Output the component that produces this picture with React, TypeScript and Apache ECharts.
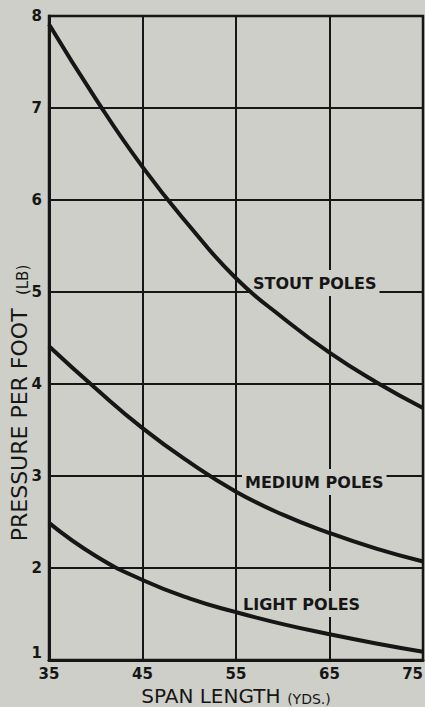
import React, { useEffect, useRef } from "react";
import * as echarts from "echarts";

const spanLengths = [35, 40, 45, 50, 55, 60, 65, 70, 75];
const stoutPoles = [7.91, 7.1, 6.36, 5.72, 5.15, 4.72, 4.34, 4.02, 3.74];
const mediumPoles = [4.41, 3.95, 3.52, 3.15, 2.83, 2.58, 2.38, 2.21, 2.07];
const lightPoles = [2.49, 2.13, 1.87, 1.67, 1.52, 1.39, 1.28, 1.18, 1.09];
const seriesNames = ["STOUT POLES", "MEDIUM POLES", "LIGHT POLES"];

const BG = "#cecfc9";
const INK = "#161616";
const FONT = "DejaVu Sans";

export default function App() {
  const ref = useRef<HTMLDivElement>(null);
  useEffect(() => {
    if (!ref.current) return;
    const chart = echarts.init(ref.current, undefined, { renderer: "svg" });
    const mk = (vals: number[]) => spanLengths.map((x, i) => [x, vals[i]]);
    const lineSeries = (name: string, vals: number[]) => ({
      name,
      type: "line",
      data: mk(vals),
      smooth: 0.5,
      showSymbol: false,
      symbol: "none",
      lineStyle: { color: INK, width: 4 },
      z: 3,
    });
    const labelText = (text: string, x: number, y: number) => ({
      type: "text",
      x,
      y,
      z: 1,
      style: {
        text,
        font: `bold 16px "${FONT}"`,
        fill: INK,
        verticalAlign: "middle",
        align: "left",
        backgroundColor: BG,
        padding: [5, 3, 5, 3],
      },
    });
    chart.setOption({
      animation: false,
      backgroundColor: BG,
      grid: {
        left: 49,
        right: 2,
        top: 16,
        bottom: 47,
        show: true,
        borderColor: INK,
        borderWidth: 2.5,
        backgroundColor: "transparent",
        containLabel: false,
        outerBoundsMode: "none",
      },
      xAxis: {
        type: "value",
        min: 35,
        max: 75,
        interval: 10,
        name: "{a|SPAN LENGTH}  {b|(YDS.)}",
        nameLocation: "middle",
        nameGap: 22,
        nameTextStyle: {
          rich: {
            a: { fontFamily: FONT, fontSize: 20, color: INK, lineHeight: 22, verticalAlign: "bottom" },
            b: { fontFamily: FONT, fontSize: 14, color: INK, lineHeight: 19, verticalAlign: "bottom" },
          },
        },
        axisLine: { show: true, lineStyle: { color: INK, width: 3 } },
        axisTick: { show: false },
        splitLine: { show: true, lineStyle: { color: INK, width: 2 } },
        axisLabel: {
          color: INK,
          fontFamily: FONT,
          fontWeight: "bold",
          fontSize: 15,
          margin: 6,
          alignMaxLabel: "right",
        },
      },
      yAxis: {
        type: "value",
        min: 1,
        max: 8,
        interval: 1,
        axisLine: { show: true, lineStyle: { color: INK, width: 3 } },
        axisTick: { show: false },
        splitLine: { show: true, lineStyle: { color: INK, width: 2 } },
        axisLabel: {
          color: INK,
          fontFamily: FONT,
          fontWeight: "bold",
          fontSize: 15,
          margin: 7,
          verticalAlignMinLabel: "bottom",
        },
      },
      graphic: [
        labelText(seriesNames[0], 250, 283),
        labelText(seriesNames[1], 242, 482),
        labelText(seriesNames[2], 240, 604),
        {
          type: "text",
          x: 18,
          y: 403,
          rotation: Math.PI / 2,
          z: 1,
          style: {
            text: "{a|PRESSURE PER FOOT}    {b|(LB)}",
            align: "center",
            verticalAlign: "middle",
            fill: INK,
            rich: {
              a: { font: `22px "${FONT}"`, fill: INK, lineHeight: 24, verticalAlign: "bottom" },
              b: { font: `15px "${FONT}"`, fill: INK, lineHeight: 20, verticalAlign: "bottom" },
            },
          },
        },
      ],
      series: [
        lineSeries(seriesNames[0], stoutPoles),
        lineSeries(seriesNames[1], mediumPoles),
        lineSeries(seriesNames[2], lightPoles),
      ],
    });
    return () => chart.dispose();
  }, []);
  return (
    <div
      ref={ref}
      style={{ position: "fixed", left: 0, top: 0, width: 425, height: 707, background: BG }}
    />
  );
}
